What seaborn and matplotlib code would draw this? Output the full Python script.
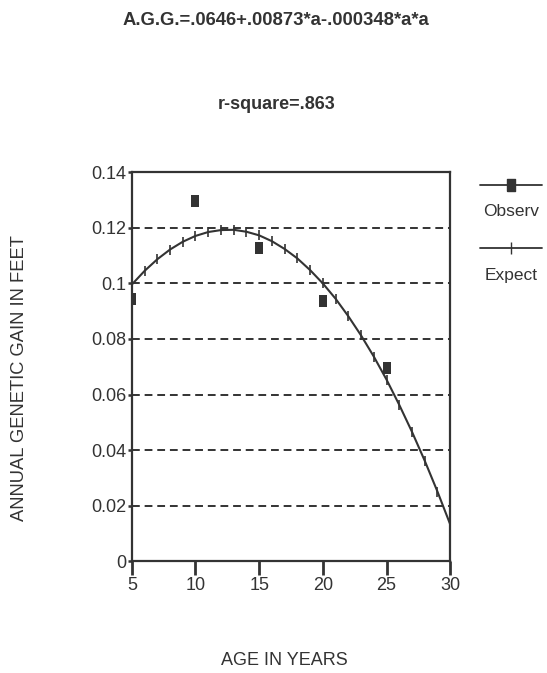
import pandas as pd
import matplotlib.pyplot as plt
import seaborn as sns
from matplotlib.path import Path
from matplotlib.lines import Line2D

# observed gains (squares)
age_obs = [5, 10, 15, 20, 25]
gain_obs = [0.0945, 0.1298, 0.1128, 0.0935, 0.0695]

# expected gains (curve with tick marks every year)
age_exp = [5, 6, 7, 8, 9, 10, 11, 12, 13, 14, 15, 16, 17, 18, 19, 20,
           21, 22, 23, 24, 25, 26, 27, 28, 29, 30]
gain_exp = [0.0996, 0.1045, 0.1087, 0.1122, 0.1150, 0.1171, 0.1185, 0.1192,
            0.1193, 0.1186, 0.1173, 0.1152, 0.1124, 0.1090, 0.1048, 0.1000,
            0.0945, 0.0882, 0.0813, 0.0737, 0.0654, 0.0563, 0.0466, 0.0362,
            0.0251, 0.0133]

xticks = [5, 10, 15, 20, 25, 30]
yticks = [0, 0.02, 0.04, 0.06, 0.08, 0.1, 0.12, 0.14]
ytick_labels = ['0', '0.02', '0.04', '0.06', '0.08', '0.1', '0.12', '0.14']

df_obs = pd.DataFrame({'age': age_obs, 'gain': gain_obs})
df_exp = pd.DataFrame({'age': age_exp, 'gain': gain_exp})

ink = '#333333'

sns.set_theme(style='ticks')
plt.rcParams['font.family'] = ['Liberation Sans', 'DejaVu Sans']
plt.rcParams.update({
    'xtick.bottom': True, 'ytick.left': True,
    'xtick.direction': 'out', 'ytick.direction': 'out',
    'xtick.major.size': 10, 'ytick.major.size': 3,
    'xtick.major.width': 2.0, 'ytick.major.width': 1.8,
    'xtick.color': ink, 'ytick.color': ink,
    'xtick.labelsize': 13, 'ytick.labelsize': 13,
    'xtick.major.pad': 1.5, 'ytick.major.pad': 1,
})

rect = Path([(-0.32, -0.5), (0.32, -0.5), (0.32, 0.5), (-0.32, 0.5), (-0.32, -0.5)])

fig = plt.figure(figsize=(5.47, 6.73), dpi=100)
ax = fig.add_axes([0.241, 0.166, 0.582, 0.578])

# dashed horizontal grid
for y in yticks[1:-1]:
    ax.axhline(y, color=ink, lw=1.4, ls=(0, (4, 2.5)), zorder=1)

sns.lineplot(data=df_exp, x='age', y='gain', ax=ax, color=ink, lw=1.5,
             marker='|', markersize=7, markeredgewidth=1.2,
             markeredgecolor=ink, zorder=3)
sns.scatterplot(data=df_obs, x='age', y='gain', ax=ax, color=ink,
                marker=rect, s=85, linewidth=0, zorder=4)

ax.set_xlim(5, 30)
ax.set_ylim(0, 0.14)
ax.set_xticks(xticks)
ax.set_yticks(yticks)
ax.set_yticklabels(ytick_labels)
ax.set_xlabel('')
ax.set_ylabel('')
for sp in ax.spines.values():
    sp.set_visible(True)
    sp.set_color(ink)
    sp.set_linewidth(1.6)

# titles and axis labels
fig.text(0.505, 0.970, 'A.G.G.=.0646+.00873*a-.000348*a*a', ha='center', va='center',
         fontsize=13.3, fontweight='bold', color=ink)
fig.text(0.505, 0.845, 'r-square=.863', ha='center', va='center',
         fontsize=13, fontweight='bold', color=ink)
fig.text(0.035, 0.438, 'ANNUAL GENETIC GAIN IN FEET', rotation=90, ha='center',
         va='center', fontsize=13.2, color=ink)
fig.text(0.519, 0.019, 'AGE IN YEARS', ha='center', va='center', fontsize=13, color=ink)

# legend: sample line above its label
fig.add_artist(Line2D([0.878, 0.934, 0.991], [0.725, 0.725, 0.725], transform=fig.transFigure,
                      color=ink, lw=1.3, marker=rect, markersize=9, markevery=[1]))
fig.text(0.934, 0.685, 'Observ', ha='center', va='center', fontsize=12.5, color=ink)
fig.add_artist(Line2D([0.878, 0.934, 0.991], [0.6315, 0.6315, 0.6315], transform=fig.transFigure,
                      color=ink, lw=1.3, marker='|', markersize=8, markevery=[1]))
fig.text(0.934, 0.591, 'Expect', ha='center', va='center', fontsize=12.5, color=ink)

fig.savefig('out.png', dpi=100)
